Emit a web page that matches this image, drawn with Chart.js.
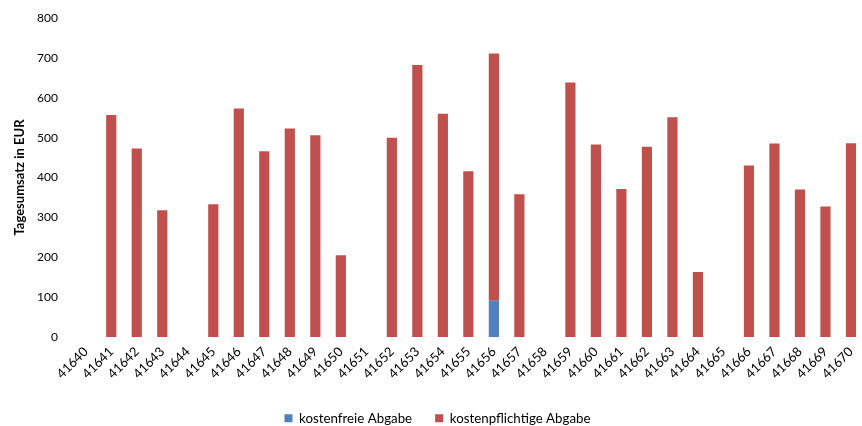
<!DOCTYPE html>
<html>
<head>
<meta charset="utf-8">
<script src="https://cdn.jsdelivr.net/npm/chart.js@4/dist/chart.umd.min.js"></script>
<style>
  html, body { margin: 0; padding: 0; background: #fff; overflow: hidden; }
  #wrap { position: relative; width: 869px; height: 426px; }
</style>
</head>
<body>
<div id="wrap"><canvas id="c"></canvas></div>
<script>
const categories = ["41640","41641","41642","41643","41644","41645","41646","41647","41648","41649",
  "41650","41651","41652","41653","41654","41655","41656","41657","41658","41659",
  "41660","41661","41662","41663","41664","41665","41666","41667","41668","41669","41670"];
const kostenfreie = [0,0,0,0,0,0,0,0,0,0, 0,0,0,0,0,0,91,0,0,0, 0,0,0,0,0,0,0,0,0,0,0];
const kostenpflichtige = [0,557,473,318,0,333,573,466,523,506, 205,0,500,682,560,416,620,358,0,638,
  483,371,477,551,163,0,430,485,370,327,486];
const seriesNames = ["kostenfreie Abgabe", "kostenpflichtige Abgabe"];
const yTitle = "Tagesumsatz in EUR";

const FONT = "Lato, 'Open Sans', sans-serif";

new Chart(document.getElementById('c'), {
  type: 'bar',
  data: {
    labels: categories,
    datasets: [
      { label: seriesNames[0], data: kostenfreie, backgroundColor: '#4F81BD',
        categoryPercentage: 1, barPercentage: 0.4 },
      { label: seriesNames[1], data: kostenpflichtige, backgroundColor: '#C0504D',
        categoryPercentage: 1, barPercentage: 0.4 }
    ]
  },
  options: {
    responsive: true,
    maintainAspectRatio: false,
    animation: false,
    layout: { padding: { top: 18, right: 0, left: 6, bottom: -9 } },
    plugins: {
      legend: {
        position: 'bottom',
        labels: { boxWidth: 8, boxHeight: 8, padding: 23, color: '#000',
          font: { family: FONT, size: 13.3 } }
      },
      tooltip: { enabled: false }
    },
    scales: {
      x: {
        stacked: true,
        grid: { display: false, drawTicks: false },
        border: { display: false },
        ticks: { minRotation: 45, maxRotation: 45, autoSkip: false, color: '#000', padding: 7,
          font: { family: FONT, size: 13 } }
      },
      y: {
        stacked: true,
        min: 0, max: 800,
        grid: { display: false, drawTicks: true, tickLength: 11, tickColor: 'rgba(0,0,0,0)' },
        border: { display: false },
        ticks: { stepSize: 100, color: '#000', padding: 4, font: { family: FONT, size: 12 } },
        title: { display: true, text: yTitle, color: '#000', padding: { top: 6, bottom: 12 },
          font: { family: FONT, size: 13, weight: 'bold' } },
        afterFit: (s) => { s.width = 67; }
      }
    }
  }
});
</script>
</body>
</html>
